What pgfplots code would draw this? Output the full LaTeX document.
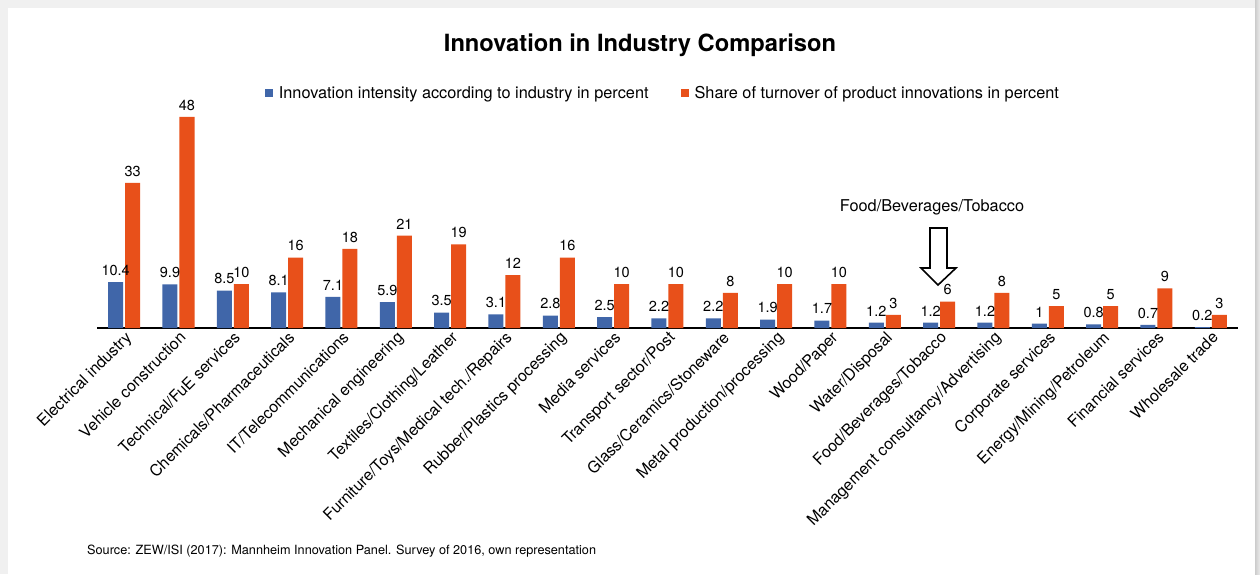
\documentclass[border=0pt]{standalone}
\usepackage{pgfplots}
\pgfplotsset{compat=1.18}
\usepackage{fontspec}
\setmainfont{TeX Gyre Heros}
\definecolor{cblue}{HTML}{4066A9}
\definecolor{corange}{HTML}{E8501A}
\begin{document}
\begin{tikzpicture}[x=1pt,y=1pt]
\useasboundingbox (0,0) rectangle (1260,574);
\fill[gray!12] (0,0) rectangle (1260,574);
\shade[left color=gray!40, right color=gray!15] (1255,0) rectangle (1260,574);
\fill[white] (8,0) rectangle (1255,566);
\begin{axis}[
  at={(97pt,246pt)}, anchor=south west,
  scale only axis, width=1141pt, height=220pt,
  xmin=-0.5, xmax=20.5, ymin=0, ymax=50,
  axis x line*=bottom, axis y line=none,
  x axis line style={line width=1.3pt, black, -},
  major tick length=0pt,
  ybar=2pt, bar width=15pt,
  clip=false,
  /pgf/number format/assume math mode=true,
  xtick={0,...,20},
  xticklabels={Electrical industry, Vehicle construction, Technical/FuE services, Chemicals/Pharmaceuticals, IT/Telecommunications, Mechanical engineering, Textiles/Clothing/Leather, Furniture/Toys/Medical tech./Repairs, Rubber/Plastics processing, Media services, Transport sector/Post, Glass/Ceramics/Stoneware, Metal production/processing, Wood/Paper, Water/Disposal, Food/Beverages/Tobacco, Management consultancy/Advertising, Corporate services, Energy/Mining/Petroleum, Financial services, Wholesale trade},
  xticklabel style={rotate=45, anchor=north east, inner sep=1.5pt, font=\fontsize{16}{18}\selectfont},
  nodes near coords,
  every node near coord/.append style={font=\fontsize{14.5}{16}\selectfont, black, yshift=3pt},
  legend columns=2,
  legend style={at={(0.496,1.068)}, anchor=center, draw=none, fill=none,
    font=\fontsize{16.3}{18}\selectfont,
    /tikz/every even column/.append style={column sep=30pt}},
  legend image code/.code={\fill[#1, draw=none] (0pt,-4pt) rectangle (8pt,4pt); \path (12pt,0pt);},
]
\addplot[fill=cblue, draw=none] coordinates {
(0,10.4) (1,9.9) (2,8.5) (3,8.1) (4,7.1) (5,5.9) (6,3.5) (7,3.1) (8,2.8) (9,2.5) (10,2.2)
(11,2.2) (12,1.9) (13,1.7) (14,1.2) (15,1.2) (16,1.2) (17,1) (18,0.8) (19,0.7) (20,0.2)};
\addplot[fill=corange, draw=none] coordinates {
(0,33) (1,48) (2,10) (3,16) (4,18) (5,21) (6,19) (7,12) (8,16) (9,10) (10,10)
(11,8) (12,10) (13,10) (14,3) (15,6) (16,8) (17,5) (18,5) (19,9) (20,3)};
\legend{Innovation intensity according to industry in percent, Share of turnover of product innovations in percent}
\end{axis}
\node[font=\fontsize{23.7}{26}\selectfont\bfseries] at (640,529) {Innovation in Industry Comparison};
\node[anchor=west, font=\fontsize{12.7}{14}\selectfont, inner sep=0pt] at (87,23) {Source: ZEW/ISI (2017): Mannheim Innovation Panel. Survey of 2016, own representation};
\node[font=\fontsize{16.3}{18}\selectfont] at (932,367) {Food/Beverages/Tobacco};
\draw[line width=1.6pt, fill=white, line join=miter] (930,346) -- (947,346) -- (947,306) -- (956,306) -- (938,289) -- (921,306) -- (930,306) -- cycle;
\end{tikzpicture}
\end{document}
